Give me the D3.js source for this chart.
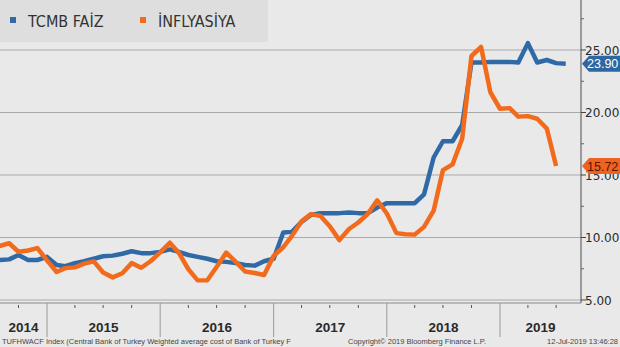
<!DOCTYPE html>
<html>
<head>
<meta charset="utf-8">
<script src="https://cdn.jsdelivr.net/npm/d3@7"></script>
<style>
  html, body { margin: 0; padding: 0; background: #e9e9e9; }
  svg { display: block; }
</style>
</head>
<body>
<svg id="chart"></svg>
<script>
// monthly series, first value = Jul 2014 (plotted at month end)
const startMonth = "2014-07";

// TCMB weighted average funding cost (%)
const faiz = [
  8.2, 8.25, 8.6, 8.2, 8.2, 8.45,
  7.8, 7.7, 7.95, 8.1, 8.3, 8.5, 8.55, 8.7, 8.9, 8.75, 8.75, 8.85,
  9.05, 8.85, 8.6, 8.45, 8.3, 8.1, 8.05, 7.95, 7.8, 7.75, 8.1, 8.3,
  10.4, 10.45, 11.25, 11.8, 11.95, 11.95, 11.95, 12.0, 11.95, 11.95, 12.4, 12.75,
  12.75, 12.75, 12.75, 13.45, 16.4, 17.7, 17.7, 19.0, 24.0, 24.0, 24.05, 24.05,
  24.05, 24.0, 25.55, 24.0, 24.2, 23.95, 23.9
];

// annual CPI inflation (%)
const enflasyon = [
  9.32, 9.54, 8.86, 8.96, 9.15, 8.17,
  7.24, 7.55, 7.61, 7.91, 8.09, 7.20, 6.81, 7.14, 7.95, 7.58, 8.10, 8.81,
  9.58, 8.78, 7.46, 6.57, 6.58, 7.64, 8.79, 8.05, 7.28, 7.16, 7.00, 8.53,
  9.22, 10.13, 11.29, 11.87, 11.72, 10.90, 9.79, 10.68, 11.20, 11.90, 12.98, 11.92,
  10.35, 10.26, 10.23, 10.85, 12.15, 15.39, 15.85, 17.90, 24.52, 25.24, 21.62, 20.30,
  20.35, 19.67, 19.71, 19.50, 18.71, 15.72
];

const years = ["2014", "2015", "2016", "2017", "2018", "2019"];
const yTicks = [5, 10, 15, 20, 25];
const yMinorTicks = [7.5, 12.5, 17.5, 22.5, 27.5];

const legendItems = [
  { label: "TCMB FAİZ", key: "faiz" },
  { label: "İNFLYASİYA", key: "enf" }
];

const footerLeft = "TUFHWACF Index (Central Bank of Turkey Weighted average cost of Bank of Turkey F";
const footerMid = "Copyright\u00A9 2019 Bloomberg Finance L.P.";
const footerRight = "12-Jul-2019 13:46:28";

document.addEventListener("DOMContentLoaded", () => {
  (function() {

    const width = 620;
    const height = 347;

    const colors = { faiz: "#2f69a6", enf: "#f26b1d" };

    // plot frame: right axis at 581, bottom frame at 303
    const plot = { left: 0, right: 581, top: 0, bottom: 303 };

    const svg = d3.select("#chart")
      .attr("width", width)
      .attr("height", height)
      .attr("viewBox", `0 0 ${width} ${height}`)
      .style("font-family", "'DejaVu Sans', Verdana, sans-serif");

    svg.append("rect")
      .attr("width", width)
      .attr("height", height)
      .attr("fill", "#e9e9e9");

    // ==============================
    // SCALES
    // ==============================
    const x = d3.scaleTime()
      .domain([new Date(2015, 0, 1), new Date(2019, 0, 1)])
      .range([47, 500]);

    const y = d3.scaleLinear()
      .domain([5, 25])
      .range([300, 50]);

    const start = d3.timeParse("%Y-%m")(startMonth);
    const monthEnd = i => d3.timeMonth.offset(start, i + 1);

    const faizData = faiz.map((v, i) => ({ date: monthEnd(i), value: v }));
    const enfData = enflasyon.map((v, i) => ({ date: monthEnd(i), value: v }));

    // ==============================
    // GRID + FRAME
    // ==============================
    svg.append("g")
      .selectAll("line")
      .data(yTicks)
      .join("line")
      .attr("x1", plot.left)
      .attr("x2", plot.right)
      .attr("y1", d => y(d))
      .attr("y2", d => y(d))
      .attr("stroke", "#a9a9a9")
      .attr("stroke-width", 1.2);

    svg.append("line")
      .attr("x1", plot.left).attr("x2", plot.right)
      .attr("y1", plot.bottom).attr("y2", plot.bottom)
      .attr("stroke", "#8a8a8a")
      .attr("stroke-width", 1.2);

    // ==============================
    // LEGEND BOX
    // ==============================
    const legend = svg.append("g");

    legend.append("rect")
      .attr("x", 0).attr("y", 0)
      .attr("width", 268).attr("height", 42)
      .attr("fill", "#dedede");

    const legendX = [10, 140];
    const li = legend.selectAll("g")
      .data(legendItems)
      .join("g")
      .attr("transform", (d, i) => `translate(${legendX[i]}, 0)`);

    li.append("rect")
      .attr("x", 0).attr("y", 17)
      .attr("width", 6).attr("height", 6)
      .attr("fill", d => colors[d.key]);

    li.append("text")
      .attr("x", 18)
      .attr("y", 27)
      .attr("font-size", "16px")
      .attr("fill", "#333")
      .style("font-family", "'DejaVu Sans Condensed', 'Liberation Sans', sans-serif")
      .text(d => d.label);

    // ==============================
    // LINES
    // ==============================
    svg.append("clipPath")
      .attr("id", "plot-clip")
      .append("rect")
      .attr("x", plot.left).attr("y", plot.top)
      .attr("width", plot.right - plot.left)
      .attr("height", plot.bottom - plot.top);

    const line = d3.line()
      .x(d => x(d.date))
      .y(d => y(d.value));

    const lines = svg.append("g").attr("clip-path", "url(#plot-clip)");

    lines.append("path")
      .datum(faizData)
      .attr("d", line)
      .attr("fill", "none")
      .attr("stroke", colors.faiz)
      .attr("stroke-width", 4.5)
      .attr("stroke-linejoin", "round");

    lines.append("path")
      .datum(enfData)
      .attr("d", line)
      .attr("fill", "none")
      .attr("stroke", colors.enf)
      .attr("stroke-width", 4.5)
      .attr("stroke-linejoin", "round");

    // ==============================
    // RIGHT AXIS
    // ==============================
    svg.append("line")
      .attr("x1", plot.right).attr("x2", plot.right)
      .attr("y1", 0).attr("y2", plot.bottom)
      .attr("stroke", "#666")
      .attr("stroke-width", 1.2);

    svg.append("g")
      .selectAll("line")
      .data(yMinorTicks)
      .join("line")
      .attr("x1", plot.right).attr("x2", plot.right + 3)
      .attr("y1", d => y(d)).attr("y2", d => y(d))
      .attr("stroke", "#666");

    svg.append("g")
      .selectAll("line")
      .data(yTicks)
      .join("line")
      .attr("x1", plot.right).attr("x2", plot.right + 5)
      .attr("y1", d => y(d)).attr("y2", d => y(d))
      .attr("stroke", "#444");

    svg.append("g")
      .selectAll("text")
      .data(yTicks)
      .join("text")
      .attr("x", plot.right + 4)
      .attr("y", d => y(d) + 4.5)
      .attr("font-size", "12px")
      .attr("fill", "#2a2a2a")
      .text(d => d3.format(".2f")(d));

    // last value tags
    const tags = [
      { value: faiz[faiz.length - 1], fill: "#2d66a1", text: "#ffffff" },
      { value: enflasyon[enflasyon.length - 1], fill: "#ee6320", text: "#5a1400" }
    ];

    const tag = svg.append("g")
      .selectAll("g")
      .data(tags)
      .join("g")
      .attr("transform", d => `translate(${plot.right + 1}, ${y(d.value)})`);

    tag.append("path")
      .attr("d", "M0,0 L7,-8 L38,-8 L38,8 L7,8 Z")
      .attr("fill", d => d.fill);

    tag.append("text")
      .attr("x", 5)
      .attr("y", 4.5)
      .attr("font-size", "12.5px")
      .attr("fill", d => d.text)
      .style("font-family", "'Liberation Sans', Arial, sans-serif")
      .text(d => d3.format(".2f")(d.value));

    // ==============================
    // X AXIS (quarter ticks, year bands)
    // ==============================
    const xMin = x.invert(plot.left);
    const xMax = x.invert(plot.right);

    const quarters = d3.timeMonth.every(3).range(xMin, xMax)
      .filter(d => d.getMonth() !== 0);

    svg.append("g")
      .selectAll("line")
      .data(quarters)
      .join("line")
      .attr("x1", d => x(d)).attr("x2", d => x(d))
      .attr("y1", plot.bottom + 2).attr("y2", plot.bottom + 5)
      .attr("stroke", "#555");

    const yearStarts = d3.timeYear.range(d3.timeYear.ceil(xMin), xMax);

    svg.append("g")
      .selectAll("line")
      .data(yearStarts)
      .join("line")
      .attr("x1", d => x(d)).attr("x2", d => x(d))
      .attr("y1", plot.bottom).attr("y2", 337)
      .attr("stroke", "#9a9a9a")
      .attr("stroke-width", 1);

    svg.append("g")
      .selectAll("text")
      .data(years)
      .join("text")
      .attr("x", d => {
        const a = Math.max(plot.left, x(new Date(+d, 0, 1)));
        const b = Math.min(plot.right, x(new Date(+d + 1, 0, 1)));
        return (a + b) / 2;
      })
      .attr("y", 332)
      .attr("text-anchor", "middle")
      .attr("font-size", "13.5px")
      .attr("font-weight", "bold")
      .attr("fill", "#2a2a2a")
      .style("font-family", "'Liberation Sans', Arial, sans-serif")
      .text(d => d);

    // ==============================
    // FOOTER
    // ==============================
    const footer = svg.append("g")
      .attr("font-size", "7.5px")
      .attr("fill", "#444")
      .style("font-family", "'Liberation Sans', Arial, sans-serif");

    footer.append("text").attr("x", 2).attr("y", 344).text(footerLeft);
    footer.append("text").attr("x", 348).attr("y", 344).text(footerMid);
    footer.append("text").attr("x", 618).attr("y", 344)
      .attr("text-anchor", "end").text(footerRight);

  })();
});
</script>
</body>
</html>
